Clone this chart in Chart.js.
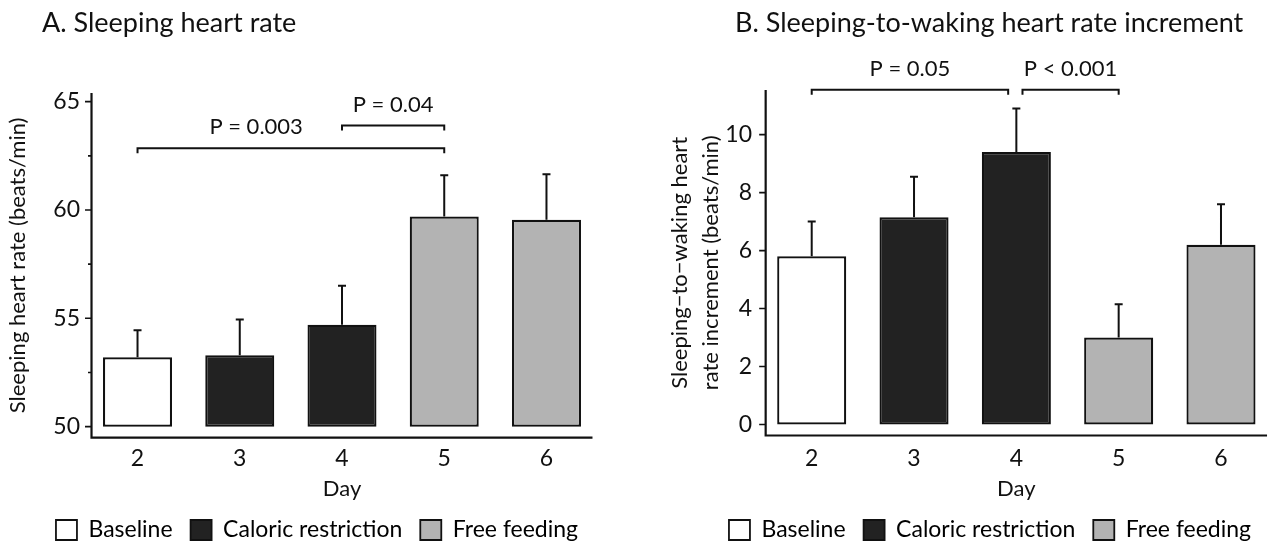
<!DOCTYPE html>
<html>
<head>
<meta charset="utf-8">
<script src="https://cdn.jsdelivr.net/npm/chart.js@4.4.1/dist/chart.umd.min.js"></script>
<style>
  html, body { margin: 0; padding: 0; background: #fff; overflow: hidden; }
  #wrapA { position: absolute; left: 0; top: 0; width: 634px; height: 546px; }
  #wrapB { position: absolute; left: 634px; top: 0; width: 712px; height: 546px; }
</style>
</head>
<body>
<div id="wrapA"><canvas id="chartA"></canvas></div>
<div id="wrapB"><canvas id="chartB"></canvas></div>
<script>
// data
const days = ['2', '3', '4', '5', '6'];
const dayPhase = ['Baseline', 'Caloric restriction', 'Caloric restriction', 'Free feeding', 'Free feeding'];
const phaseNames = ['Baseline', 'Caloric restriction', 'Free feeding'];

const sleepHR = [53.2, 53.3, 54.7, 59.7, 59.55];
const sleepHRErr = [1.25, 1.65, 1.8, 1.9, 2.1];
const hrIncrement = [5.8, 7.15, 9.4, 3.0, 6.2];
const hrIncrementErr = [1.2, 1.4, 1.5, 1.15, 1.4];

const ticksA = [50, 55, 60, 65];
const minorTicksA = [52.5, 57.5, 62.5];
const ticksB = [0, 2, 4, 6, 8, 10];

// significance brackets: from/to are day indexes, level in y units
const bracketsA = [
  { from: 0, to: 3, level: 62.85, text: 'P = 0.003', textAt: 1.16 },
  { from: 2, to: 3, level: 63.9, text: 'P = 0.04' }
];
const bracketsB = [
  { from: 0, to: 1.92, level: 11.55, text: 'P = 0.05' },
  { from: 2.06, to: 3, level: 11.55, text: 'P < 0.001' }
];

const FONT = 'Lato, "Open Sans", sans-serif';
const INK = '#111';
const phaseColor = {
  'Baseline': '#ffffff',
  'Caloric restriction': '#222222',
  'Free feeding': '#b3b3b3'
};

// axes, error bars, brackets and panel title drawn on top of the chart
const paperPlugin = {
  id: 'paper',
  afterDraw(chart, args, o) {
    const ctx = chart.ctx;
    const xs = chart.scales.x, ys = chart.scales.y;
    const x0 = xs.getPixelForValue(-0.45), x1 = xs.getPixelForValue(4.45);
    ctx.save();
    ctx.strokeStyle = INK;
    ctx.lineWidth = 2.2;
    ctx.lineJoin = 'miter';
    ctx.beginPath();
    ctx.moveTo(x0, ys.top);
    ctx.lineTo(x0, ys.bottom);
    ctx.lineTo(x1, ys.bottom);
    ctx.stroke();

    ctx.lineWidth = 1.6;
    ctx.beginPath();
    o.major.forEach(v => {
      const py = ys.getPixelForValue(v);
      ctx.moveTo(x0 - 6.5, py); ctx.lineTo(x0, py);
    });
    o.minor.forEach(v => {
      const py = ys.getPixelForValue(v);
      ctx.moveTo(x0 - 3.5, py); ctx.lineTo(x0, py);
    });
    ctx.stroke();

    // error bars (upper only)
    const meta = chart.getDatasetMeta(0);
    const vals = chart.data.datasets[0].data;
    ctx.lineWidth = 2;
    ctx.beginPath();
    meta.data.forEach((bar, i) => {
      const yTop = ys.getPixelForValue(vals[i]);
      const yErr = ys.getPixelForValue(vals[i] + o.errors[i]);
      ctx.moveTo(bar.x, yTop); ctx.lineTo(bar.x, yErr);
      ctx.moveTo(bar.x - 4, yErr); ctx.lineTo(bar.x + 4, yErr);
    });
    ctx.stroke();

    // brackets
    ctx.fillStyle = INK;
    ctx.font = '22px ' + FONT;
    ctx.textAlign = 'center';
    ctx.textBaseline = 'middle';
    o.brackets.forEach(b => {
      const xl = xs.getPixelForValue(b.from), xr = xs.getPixelForValue(b.to);
      const yy = ys.getPixelForValue(b.level);
      ctx.beginPath();
      ctx.moveTo(xl, yy + 5); ctx.lineTo(xl, yy); ctx.lineTo(xr, yy); ctx.lineTo(xr, yy + 5);
      ctx.stroke();
      const tx = xs.getPixelForValue(b.textAt !== undefined ? b.textAt : (b.from + b.to) / 2);
      ctx.fillText(b.text, tx, yy - 21);
    });

    // panel title
    ctx.font = '27px ' + FONT;
    ctx.textAlign = 'left';
    ctx.textBaseline = 'alphabetic';
    ctx.fillText(o.title, o.titleX, 31.5);
    ctx.restore();
  }
};

function makeChart(id, cfg) {
  return new Chart(document.getElementById(id), {
    type: 'bar',
    data: {
      labels: days,
      datasets: [{
        data: cfg.values,
        base: cfg.base,
        backgroundColor: dayPhase.map(p => phaseColor[p]),
        borderColor: INK,
        borderWidth: 2.2,
        borderSkipped: false,
        barPercentage: 0.675,
        categoryPercentage: 1
      }]
    },
    options: {
      responsive: true,
      maintainAspectRatio: false,
      animation: false,
      layout: { padding: { top: cfg.top, left: 0, right: 0, bottom: 0 } },
      plugins: {
        tooltip: { enabled: false },
        title: { display: false },
        legend: {
          position: 'bottom',
          onClick: null,
          maxHeight: 45.5,
          labels: {
            boxWidth: 21,
            boxHeight: 20,
            padding: 18,
            color: INK,
            font: { family: FONT, size: 23 },
            generateLabels: () => phaseNames.map(n => ({
              text: n, fillStyle: phaseColor[n], strokeStyle: INK, lineWidth: 1.8, hidden: false
            }))
          }
        },
        paper: {
          major: cfg.ticks, minor: cfg.minor, errors: cfg.errors,
          brackets: cfg.brackets, title: cfg.title, titleX: cfg.titleX
        }
      },
      scales: {
        x: {
          offset: true,
          grid: { display: false, drawTicks: false },
          border: { display: false },
          ticks: { color: INK, font: { family: FONT, size: 23 }, padding: cfg.xTickPad },
          title: {
            display: true, text: 'Day', color: INK,
            font: { family: FONT, size: 22 }, padding: { top: 0, bottom: -1.7 }
          },
          afterFit: s => { s.height = cfg.xHeight; }
        },
        y: {
          min: cfg.min, max: cfg.max,
          grid: { display: false, drawTicks: false },
          border: { display: false },
          afterBuildTicks: s => { s.ticks = cfg.ticks.map(v => ({ value: v })); },
          ticks: { color: INK, font: { family: FONT, size: 23 }, padding: cfg.yTickPad },
          title: {
            display: true, text: cfg.yTitle, color: INK,
            font: { family: FONT, size: 22, lineHeight: 1.4 },
            padding: { top: cfg.yTitlePad, bottom: 0 }
          },
          afterFit: s => { s.width = cfg.yWidth; }
        },
        yPad: {
          type: 'linear', position: 'right',
          grid: { display: false, drawTicks: false },
          border: { display: false },
          ticks: { display: false },
          afterFit: s => { s.width = cfg.padRight; }
        }
      }
    },
    plugins: [paperPlugin]
  });
}

makeChart('chartA', {
  values: sleepHR, errors: sleepHRErr, base: 50,
  min: 49.49, max: 65.4, ticks: ticksA, minor: minorTicksA,
  brackets: bracketsA,
  title: 'A. Sleeping heart rate', titleX: 42,
  yTitle: 'Sleeping heart rate (beats/min)', yTitlePad: 2.6,
  top: 93, yWidth: 86.4, padRight: 36.4, xHeight: 62.8,
  xTickPad: 7.5, yTickPad: 6.4
});

makeChart('chartB', {
  values: hrIncrement, errors: hrIncrementErr, base: 0,
  min: -0.38, max: 11.54, ticks: ticksB, minor: [],
  brackets: bracketsB,
  title: 'B. Sleeping-to-waking heart rate increment', titleX: 101,
  yTitle: ['Sleeping\u2212to\u2212waking heart', 'rate increment (beats/min)'], yTitlePad: 30.6,
  top: 90, yWidth: 126.55, padRight: 73.85, xHeight: 65,
  xTickPad: 9.7, yTickPad: 8.5
});
</script>
</body>
</html>
